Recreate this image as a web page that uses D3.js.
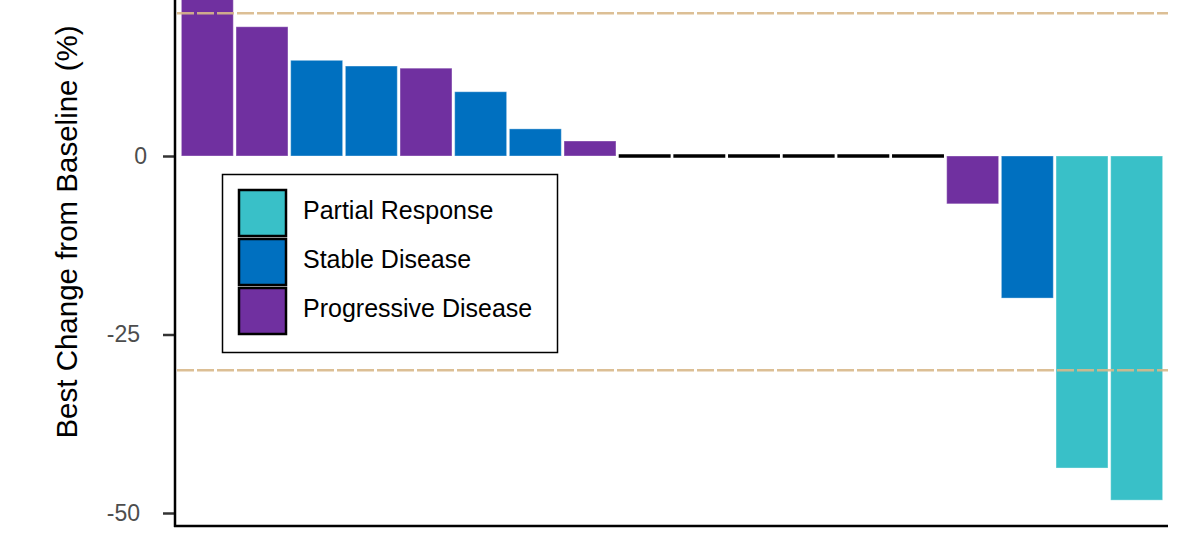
<!DOCTYPE html>
<html>
<head>
<meta charset="utf-8">
<script src="https://cdn.jsdelivr.net/npm/d3@7"></script>
<style>
  html, body { margin: 0; padding: 0; background: #fff; }
  svg { display: block; font-family: "Liberation Sans", Arial, sans-serif; }
</style>
</head>
<body>
<svg id="chart" width="1183" height="538"></svg>
<script>
// Patient identifiers (ordered by best change, largest growth first)
const patients = ["P01","P02","P03","P04","P05","P06","P07","P08","P09",
                  "P10","P11","P12","P13","P14","P15","P16","P17","P18"];
// Best change from baseline, in percent
const bestChange = [24, 18.1, 13.4, 12.6, 12.3, 9.0, 3.8, 2.1, 0, 0, 0, 0, 0, 0,
                    -6.7, -19.9, -43.7, -48.2];
// Best overall response per patient
const response = ["PD","PD","SD","SD","PD","SD","SD","PD","SD","SD","SD","SD","SD","SD",
                  "PD","SD","PR","PR"];
// Response categories shown in the legend
const responseKeys = ["PR","SD","PD"];
const responseLabels = ["Partial Response","Stable Disease","Progressive Disease"];
const responseColors = ["#39C0C8","#0070C0","#7030A0"];
// Y-axis ticks and reference thresholds
const yTicks = [-50, -25, 0];
const thresholds = [20, -30];

const svg = d3.select("#chart");
const axisY = 526, axisX = 175;

const x = d3.scaleBand().domain(patients).range([180, 1164]).paddingInner(0.05).paddingOuter(0.025);
const y = d3.scaleLinear().domain([-50, 0]).range([513, 156]);
const color = d3.scaleOrdinal().domain(responseKeys).range(responseColors);

const data = patients.map((p, i) => ({ id: p, value: bestChange[i], resp: response[i] }));

// Bars
const plot = svg.append("g");
plot.selectAll("rect.bar")
  .data(data.filter(d => d.value !== 0))
  .join("rect")
  .attr("class", "bar")
  .attr("x", d => x(d.id))
  .attr("width", x.bandwidth())
  .attr("y", d => Math.min(y(d.value), y(0)))
  .attr("height", d => Math.abs(y(d.value) - y(0)))
  .attr("fill", d => color(d.resp))
  .attr("stroke", "#ffffff")
  .attr("stroke-opacity", 0.35)
  .attr("stroke-width", 1);

// Zero-change patients drawn as flat black bars
plot.selectAll("line.zero")
  .data(data.filter(d => d.value === 0))
  .join("line")
  .attr("class", "zero")
  .attr("x1", d => x(d.id))
  .attr("x2", d => x(d.id) + x.bandwidth())
  .attr("y1", y(0)).attr("y2", y(0))
  .attr("stroke", "#000").attr("stroke-width", 3.5);

// Threshold reference lines
svg.selectAll("line.thr")
  .data(thresholds)
  .join("line")
  .attr("class", "thr")
  .attr("x1", axisX + 2).attr("x2", 1168)
  .attr("y1", d => y(d)).attr("y2", d => y(d))
  .attr("stroke", "#D8B88A")
  .attr("stroke-opacity", 0.9)
  .attr("stroke-width", 2.5)
  .attr("stroke-dasharray", "17,3");

// Y axis
const yAxis = d3.axisLeft(y).tickValues(yTicks).tickSize(12).tickPadding(16)
  .tickFormat(d => String(d));
const gy = svg.append("g").attr("transform", `translate(${axisX},0)`).call(yAxis);
gy.select(".domain").remove();
gy.selectAll(".tick line").attr("stroke", "#333").attr("stroke-width", 2.5);
gy.selectAll(".tick text").attr("fill", "#4d4d4d").style("font-size", "23px")
  .attr("dx", d => d < 0 ? -7 : 0)
  .style("font-family", "'Liberation Sans', Arial, sans-serif");

// Axis lines
svg.append("line").attr("x1", axisX).attr("x2", axisX).attr("y1", 0).attr("y2", axisY + 1)
  .attr("stroke", "#000").attr("stroke-width", 2.5);
svg.append("line").attr("x1", axisX - 1).attr("x2", 1168).attr("y1", axisY).attr("y2", axisY)
  .attr("stroke", "#000").attr("stroke-width", 2.5);

// Y axis title
svg.append("text")
  .attr("transform", "translate(77,232) rotate(-90)")
  .attr("text-anchor", "middle")
  .style("font-size", "29.5px")
  .attr("fill", "#000")
  .text("Best Change from Baseline (%)");

// Legend
const legend = svg.append("g");
legend.append("rect").attr("x", 222.5).attr("y", 174.5).attr("width", 335).attr("height", 178)
  .attr("fill", "#fff").attr("stroke", "#000").attr("stroke-width", 1.5);
const items = legend.selectAll("g.item").data(responseKeys).join("g").attr("class", "item")
  .attr("transform", (d, i) => `translate(0,${i * 49})`);
items.append("rect").attr("x", 239).attr("y", 190).attr("width", 47).attr("height", 46)
  .attr("fill", d => color(d)).attr("stroke", "#000").attr("stroke-width", 2.5);
items.append("text").attr("x", 303).attr("y", 210).attr("dy", "0.35em")
  .style("font-size", "25px").attr("fill", "#000")
  .text((d, i) => responseLabels[i]);
</script>
</body>
</html>
